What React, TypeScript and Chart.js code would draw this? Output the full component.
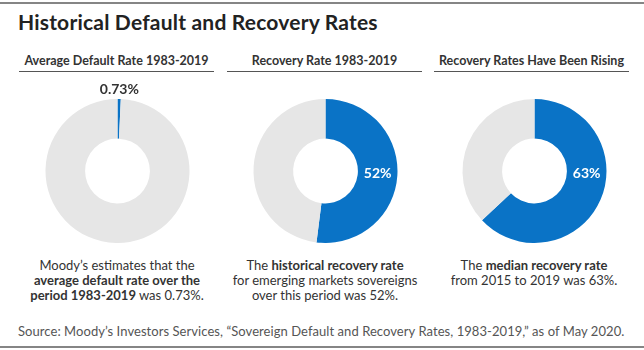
import React, { useEffect, useRef } from "react";
import { Chart, registerables } from "chart.js";

Chart.register(...registerables);

const mainTitle = "Historical Default and Recovery Rates";
const panelTitles = [
  "Average Default Rate 1983-2019",
  "Recovery Rate 1983-2019",
  "Recovery Rates Have Been Rising",
];
const categories = ["Rate", "Remainder"];
const rateValues = [0.73, 52, 63];
const rateLabels = ["0.73%", "52%", "63%"];
const sourceText =
  "Source: Moody\u2019s Investors Services, \u201cSovereign Default and Recovery Rates, 1983-2019,\u201d as of May 2020.";

const BLUE = "#0a73c6";
const GREY = "#e6e6e6";
const FONT = "Lato, 'Noto Sans', sans-serif";

const panelCenters = [117, 325, 534];
const columnLeft = [19, 227, 434];
const columnWidth = 195;

const labelPlugin = {
  id: "rateLabel",
  afterDatasetsDraw(chart: any) {
    const meta = chart.getDatasetMeta(0);
    const arc = meta.data[0];
    if (!arc) return;
    const p = arc.getProps(["x", "y", "innerRadius", "outerRadius", "startAngle", "endAngle"], true);
    const text = chart.options.plugins.rateLabel.text;
    const value = chart.data.datasets[0].data[0];
    const ctx = chart.ctx;
    ctx.save();
    ctx.textAlign = "center";
    ctx.textBaseline = "middle";
    ctx.font = `bold 14px ${FONT}`;
    if (value < 5) {
      const mid = (p.startAngle + p.endAngle) / 2;
      const r = p.outerRadius + 10;
      ctx.fillStyle = "#333333";
      ctx.fillText(text, p.x + r * Math.cos(mid), p.y + r * Math.sin(mid));
    } else {
      ctx.fillStyle = "#ffffff";
      ctx.fillText(text, p.x + (p.innerRadius + p.outerRadius) / 2, p.y + 2);
    }
    ctx.restore();
  },
};

function Donut({ index }: { index: number }) {
  const ref = useRef<HTMLCanvasElement | null>(null);
  useEffect(() => {
    if (!ref.current) return;
    const v = rateValues[index];
    const chart = new Chart(ref.current, {
      type: "doughnut",
      data: {
        labels: categories,
        datasets: [
          {
            data: [v, 100 - v],
            backgroundColor: [BLUE, GREY],
            borderWidth: 0,
          },
        ],
      },
      options: {
        animation: false,
        responsive: false,
        events: [],
        cutout: "45%",
        layout: { padding: { top: 20, bottom: 0, left: 0, right: 0 } },
        plugins: {
          legend: { display: false },
          tooltip: { enabled: false },
          rateLabel: { text: rateLabels[index] },
        } as any,
      },
      plugins: [labelPlugin],
    });
    return () => chart.destroy();
  }, [index]);
  return (
    <canvas
      ref={ref}
      width={195}
      height={164}
      style={{
        position: "absolute",
        left: panelCenters[index] - 97.5,
        top: 79,
        width: 195,
        height: 164,
      }}
    />
  );
}

const captions = [
  <>
    Moody’s estimates that the
    <br />
    <b>average default rate over the</b>
    <br />
    <b>period 1983-2019</b> was 0.73%.
  </>,
  <>
    The <b>historical recovery rate</b>
    <br />
    for emerging markets sovereigns
    <br />
    over this period was 52%.
  </>,
  <>
    The <b>median recovery rate</b>
    <br />
    from 2015 to 2019 was 63%.
  </>,
];

export default function App() {
  useEffect(() => {
    document.body.style.margin = "0";
  }, []);
  return (
    <div
      style={{
        position: "relative",
        width: 644,
        height: 350,
        background: "#ffffff",
        fontFamily: FONT,
        color: "#333",
        overflow: "hidden",
      }}
    >
      <div style={{ position: "absolute", left: 0, top: 2, width: 644, height: 2, background: "#858585" }} />
      <div
        style={{
          position: "absolute",
          left: 18,
          top: 9,
          fontSize: 21,
          lineHeight: "25px",
          letterSpacing: "0.2px",
          fontWeight: 700,
          color: "#222",
          whiteSpace: "nowrap",
        }}
      >
        {mainTitle}
      </div>
      {panelTitles.map((t, i) => (
        <div
          key={t}
          style={{
            position: "absolute",
            left: columnLeft[i],
            top: 54,
            width: columnWidth,
            fontSize: 12.5,
            lineHeight: "14px",
            fontWeight: 700,
            textAlign: "center",
            paddingBottom: 3,
            borderBottom: "1.5px solid #555",
            whiteSpace: "nowrap",
            color: "#333",
          }}
        >
          {t}
        </div>
      ))}
      {[0, 1, 2].map((i) => (
        <Donut key={i} index={i} />
      ))}
      {captions.map((c, i) => (
        <div
          key={i}
          style={{
            position: "absolute",
            left: panelCenters[i] - 110,
            top: 258,
            width: 220,
            fontSize: 13,
            lineHeight: "15px",
            textAlign: "center",
            color: "#333",
            whiteSpace: "nowrap",
          }}
        >
          {c}
        </div>
      ))}
      <div
        style={{
          position: "absolute",
          left: 18,
          top: 324,
          fontSize: 13,
          lineHeight: "15px",
          letterSpacing: "0.06px",
          color: "#555",
          whiteSpace: "nowrap",
        }}
      >
        {sourceText}
      </div>
      <div style={{ position: "absolute", left: 0, top: 346, width: 644, height: 2, background: "#858585" }} />
    </div>
  );
}
